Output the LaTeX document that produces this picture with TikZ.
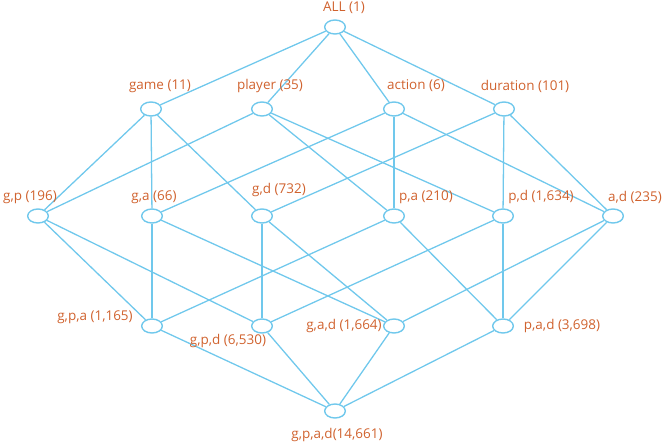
\documentclass[tikz,border=0pt]{standalone}
\usepackage{fontspec}
\setmainfont{Open Sans}
\usetikzlibrary{shapes.geometric}
\definecolor{latblue}{RGB}{112,200,236}
\definecolor{latorange}{RGB}{208,98,46}

\begin{document}
\begin{tikzpicture}[x=0.03cm, y=-0.03cm,
    cell/.style={ellipse, draw=latblue, fill=white, line width=1.2pt, minimum width=0.62cm, minimum height=0.42cm, inner sep=0pt},
    cnt/.style={font=\fontsize{11.5}{13}\selectfont, text=latorange, inner sep=0pt},
    link/.style={draw=latblue, line width=1.1pt}]
    \useasboundingbox (0,0) rectangle (666,444);

    % Lattice cells, top to bottom
    \node[cell] (all) at (335,27) {};
    \foreach \n/\x in {g/151, p/262, a/394, d/504}
        \node[cell] (\n) at (\x,109) {};
    \foreach \n/\x in {gp/38, ga/152, gd/262, pa/394, pd/503, ad/613}
        \node[cell] (\n) at (\x,216) {};
    \foreach \n/\x in {gpa/152, gpd/262, gad/394, pad/503}
        \node[cell] (\n) at (\x,326) {};
    \node[cell] (gpad) at (335,411) {};

    % Links between levels
    \foreach \s/\t in {all/g, all/p, all/a, all/d,
                       g/gp, g/ga, g/gd, p/gp, p/pa, p/pd,
                       a/ga, a/pa, a/ad, d/gd, d/pd, d/ad,
                       gp/gpa, gp/gpd, ga/gpa, ga/gad, gd/gpd, gd/gad,
                       pa/gpa, pa/pad, pd/gpd, pd/pad, ad/gad, ad/pad,
                       gpa/gpad, gpd/gpad, gad/gpad, pad/gpad}
        \draw[link] (\s) -- (\t);

    % Counts
    \node[cnt] (lall) at (344,8) {ALL (1)};
    \node[cnt] (lg) at (160,86) {game (11)};
    \node[cnt] (lp) at (270,86) {player (35)};
    \node[cnt] (la) at (416,86) {action (6)};
    \node[cnt] (ld) at (525,86) {duration (101)};
    \node[cnt] (lgp) at (30,197) {g,p (196)};
    \node[cnt] (lga) at (154,197) {g,a (66)};
    \node[cnt] (lgd) at (279,190) {g,d (732)};
    \node[cnt] (lpa) at (426,197) {p,a (210)};
    \node[cnt] (lpd) at (541,197) {p,d (1,634)};
    \node[cnt] (lad) at (635,197) {a,d (235)};
    \node[cnt] (lgpa) at (95,317) {g,p,a (1,165)};
    \node[cnt] (lgpd) at (228,341) {g,p,d (6,530)};
    \node[cnt] (lgad) at (344,326) {g,a,d (1,664)};
    \node[cnt] (lpad) at (562,326) {p,a,d (3,698)};
    \node[cnt] (lgpad) at (337,435) {g,p,a,d(14,661)};
\end{tikzpicture}
\end{document}
